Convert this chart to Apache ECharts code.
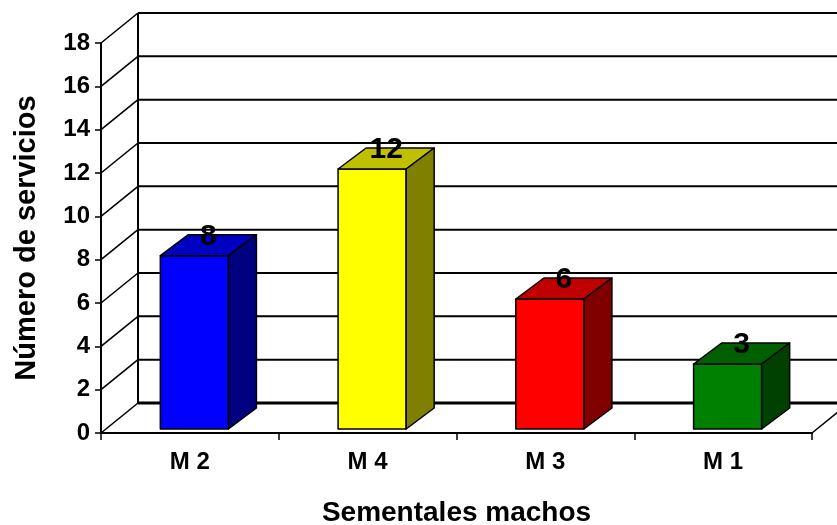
<!DOCTYPE html>
<html>
<head>
<meta charset="utf-8">
<script src="https://cdn.jsdelivr.net/npm/echarts@6/dist/echarts.min.js"></script>
<style>
  html, body { margin: 0; padding: 0; background: #fff; }
  #chart { width: 837px; height: 525px; }
</style>
</head>
<body>
<div id="chart"></div>
<script>
// Services per male (stud) – values shown as bar labels
const categories = ['M 2', 'M 4', 'M 3', 'M 1'];
const services = [8, 12, 6, 3];
const yTicks = [0, 2, 4, 6, 8, 10, 12, 14, 16, 18];

// Styling / 3D projection settings
const FONT = '"Liberation Sans", Arial, sans-serif';
const faceColors = ['#0000FF', '#FFFF00', '#FF0000', '#008000'];
const topColors  = ['#0000C0', '#C0C000', '#C00000', '#006000'];
const sideColors = ['#000080', '#808000', '#800000', '#004000'];
const WALL_DEPTH = [37, -30];   // offset of the back wall from the front axes
const BAR_INSET = [4.5, -4];    // front face of bars sits slightly behind the front edge
const BAR_DEPTH = [28, -21];    // depth of each box
const BAR_FRACTION = 0.383;     // bar width as share of a category band

const chart = echarts.init(document.getElementById('chart'), null, { renderer: 'canvas' });

// Back wall grid lines, side wall diagonals and floor outline
function renderFrame(params, api) {
  const cs = params.coordSys;
  const v = api.value(1);
  const y = api.coord([api.value(0), v])[1];
  const x0 = cs.x, x1 = cs.x + cs.width;
  const [dx, dy] = WALL_DEPTH;
  const isFloor = v === yTicks[0];
  const children = [
    { type: 'line', shape: { x1: x0 + dx, y1: y + dy, x2: x1 + dx, y2: y + dy },
      style: { stroke: '#000', lineWidth: isFloor ? 3 : 2 } },
    { type: 'line', shape: { x1: x0, y1: y, x2: x0 + dx, y2: y + dy },
      style: { stroke: '#000', lineWidth: 1.6 } }
  ];
  if (isFloor) {
    children.push({ type: 'line', shape: { x1: x1, y1: y, x2: x1 + dx, y2: y + dy },
      style: { stroke: '#000', lineWidth: 1.6 } });
    children.push({ type: 'line', shape: { x1: x0 + dx, y1: y + dy, x2: x0 + dx, y2: cs.y + dy },
      style: { stroke: '#000', lineWidth: 2 } });
  }
  return { type: 'group', children };
}

// 3D box for each category with its value on top
function renderBar(params, api) {
  const i = params.dataIndex;
  const cat = api.value(0);
  const v = api.value(1);
  const top = api.coord([cat, v]);
  const base = api.coord([cat, 0]);
  const band = api.size([1, 0])[0];
  const w = band * BAR_FRACTION;
  const cx = top[0] + BAR_INSET[0];
  const l = cx - w / 2, r = cx + w / 2;
  const yt = top[1] + BAR_INSET[1], yb = base[1] + BAR_INSET[1];
  const [dx, dy] = BAR_DEPTH;
  const edge = { stroke: '#000', lineWidth: 1.5, lineJoin: 'round' };
  return {
    type: 'group',
    children: [
      { type: 'polygon', shape: { points: [[l, yb], [r, yb], [r, yt], [l, yt]] },
        style: Object.assign({ fill: faceColors[i] }, edge) },
      { type: 'polygon', shape: { points: [[l, yt], [r, yt], [r + dx, yt + dy], [l + dx, yt + dy]] },
        style: Object.assign({ fill: topColors[i] }, edge) },
      { type: 'polygon', shape: { points: [[r, yb], [r + dx, yb + dy], [r + dx, yt + dy], [r, yt]] },
        style: Object.assign({ fill: sideColors[i] }, edge) },
      { type: 'text', x: cx + dx / 2, y: yt + dy + 2,
        style: { text: String(v), fill: '#000', font: 'bold 30px ' + FONT,
                 align: 'center', verticalAlign: 'middle' } }
    ]
  };
}

chart.setOption({
  animation: false,
  backgroundColor: '#fff',
  grid: { left: 101, right: 25, top: 43, bottom: 92, containLabel: false, outerBoundsMode: 'none' },
  xAxis: {
    type: 'category',
    data: categories,
    boundaryGap: true,
    axisLine: { show: true, lineStyle: { color: '#000', width: 2 } },
    axisTick: { show: true, length: 7, lineStyle: { color: '#000', width: 1.5 } },
    axisLabel: { color: '#000', fontSize: 24, fontWeight: 'bold', fontFamily: FONT, margin: 17 },
    splitLine: { show: false },
    name: 'Sementales machos',
    nameLocation: 'middle',
    nameGap: 66,
    nameTextStyle: { color: '#000', fontSize: 28, fontWeight: 'bold', fontFamily: FONT }
  },
  yAxis: {
    type: 'value',
    min: 0,
    max: 18,
    interval: 2,
    axisLine: { show: true, lineStyle: { color: '#000', width: 2 } },
    axisTick: { show: true, length: 6, lineStyle: { color: '#000', width: 1.5 } },
    axisLabel: { color: '#000', fontSize: 24, fontWeight: 'bold', fontFamily: FONT, margin: 11 },
    splitLine: { show: false },
    name: 'Número de servicios',
    nameLocation: 'middle',
    nameGap: 60,
    nameTextStyle: { color: '#000', fontSize: 29, fontWeight: 'bold', fontFamily: FONT }
  },
  series: [
    {
      type: 'custom',
      name: 'frame',
      z: 1,
      silent: true,
      renderItem: renderFrame,
      encode: { x: 0, y: 1 },
      data: yTicks.map(v => [0, v])
    },
    {
      type: 'custom',
      name: 'Número de servicios',
      z: 5,
      renderItem: renderBar,
      encode: { x: 0, y: 1 },
      data: services.map((v, i) => [i, v])
    }
  ]
});
</script>
</body>
</html>
